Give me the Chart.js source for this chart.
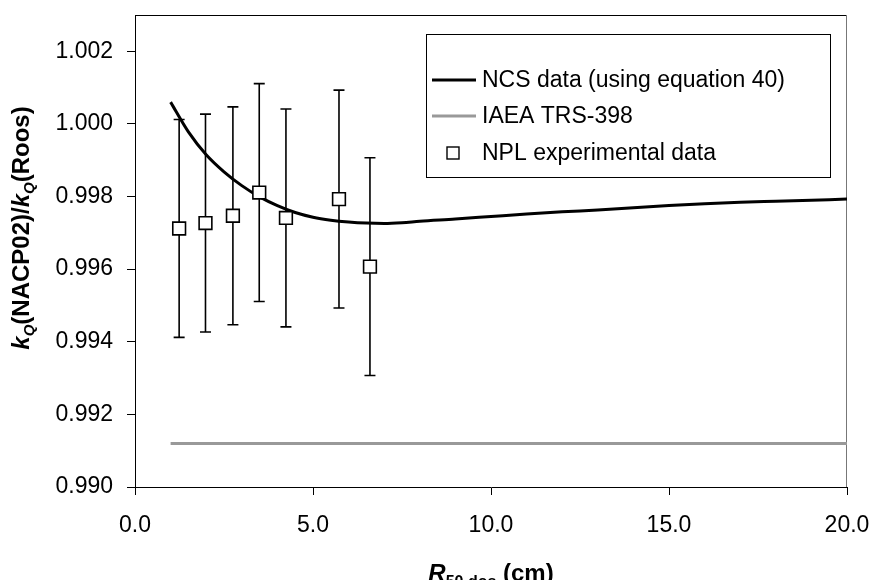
<!DOCTYPE html>
<html>
<head>
<meta charset="utf-8">
<script src="https://cdn.jsdelivr.net/npm/chart.js@4"></script>
<style>
  html, body { margin: 0; padding: 0; background: #fff; }
</style>
</head>
<body>
<canvas id="chart" width="875" height="580"></canvas>
<script>
// ---------- Data ----------

// NCS data (using equation 40): smooth curve
const ncsX = [1.0, 1.5, 2.0, 2.5, 3.0, 3.5, 4.0, 4.5, 5.0, 5.5, 6.0, 6.5, 7.0, 7.5, 8.0,
              9.0, 10.0, 11.0, 12.0, 13.0, 14.0, 15.0, 16.0, 17.0, 18.0, 19.0, 20.0];
const ncsY = [1.00060, 0.99978, 0.99915, 0.99868, 0.99830, 0.99799, 0.99775, 0.99756, 0.99743,
              0.99735, 0.99730, 0.99727, 0.99726, 0.99728, 0.99732, 0.99738, 0.99745, 0.99752,
              0.99758, 0.99763, 0.99769, 0.99775, 0.99780, 0.99784, 0.99787, 0.99790, 0.99793];

// IAEA TRS-398: flat line
const iaeaX = [1.0, 20.0];
const iaeaY = [0.9912, 0.9912];

// NPL experimental data with error bars
const nplX = [1.24, 1.98, 2.75, 3.49, 4.24, 5.73, 6.60];
const nplY = [0.99712, 0.99727, 0.99747, 0.99811, 0.99741, 0.99793, 0.99607];
const nplErr = [0.0030, 0.0030, 0.0030, 0.0030, 0.0030, 0.0030, 0.0030];

const seriesLabels = ["NCS data (using equation 40)", "IAEA TRS-398", "NPL experimental data"];

const xTicks = [0, 5, 10, 15, 20];
const yTicks = [0.990, 0.992, 0.994, 0.996, 0.998, 1.000, 1.002];

// ---------- Helpers ----------

const FONT = "Arial, 'Liberation Sans', sans-serif";

function pts(xs, ys) {
  return xs.map((x, i) => ({ x, y: ys[i] }));
}

// ---------- Plugins ----------

// top + right frame of the plot area, and error bars under the markers
const underlay = {
  id: "underlay",
  beforeDatasetsDraw(chart) {
    const { ctx, chartArea: a, scales } = chart;
    ctx.save();
    ctx.lineWidth = 1;
    ctx.strokeStyle = "#000";
    ctx.beginPath();
    ctx.moveTo(a.left, a.top + 0.5);
    ctx.lineTo(a.right, a.top + 0.5);
    ctx.stroke();
    ctx.strokeStyle = "#777";
    ctx.beginPath();
    ctx.moveTo(a.right - 0.5, a.top);
    ctx.lineTo(a.right - 0.5, a.bottom);
    ctx.stroke();

    ctx.strokeStyle = "#000";
    ctx.lineWidth = 1.6;
    nplX.forEach((x, i) => {
      const px = scales.x.getPixelForValue(x);
      const top = scales.y.getPixelForValue(nplY[i] + nplErr[i]);
      const bot = scales.y.getPixelForValue(nplY[i] - nplErr[i]);
      ctx.beginPath();
      ctx.moveTo(px, top);
      ctx.lineTo(px, bot);
      ctx.moveTo(px - 5.5, top);
      ctx.lineTo(px + 5.5, top);
      ctx.moveTo(px - 5.5, bot);
      ctx.lineTo(px + 5.5, bot);
      ctx.stroke();
    });
    ctx.restore();
  },
};

// axis titles with italics and subscripts
function drawRich(ctx, parts, x, y) {
  // parts: [text, style, size, dy]
  let total = 0;
  parts.forEach((p) => {
    ctx.font = `${p[1]} ${p[2]}px ${FONT}`;
    total += ctx.measureText(p[0]).width;
  });
  let cx = x - total / 2;
  parts.forEach((p) => {
    ctx.font = `${p[1]} ${p[2]}px ${FONT}`;
    ctx.fillText(p[0], cx, y + p[3]);
    cx += ctx.measureText(p[0]).width;
  });
}

const titles = {
  id: "titles",
  afterDraw(chart) {
    const { ctx, chartArea: a } = chart;
    ctx.save();
    ctx.fillStyle = "#000";
    ctx.textBaseline = "alphabetic";
    ctx.textAlign = "left";

    drawRich(ctx, [
      ["R", "italic bold", 24, 0],
      ["50,dos", "bold", 16, 6],
      [" (cm)", "bold", 24, 0],
    ], (a.left + a.right) / 2, 581);

    ctx.translate(29, 228);
    ctx.rotate(-Math.PI / 2);
    drawRich(ctx, [
      ["k", "italic bold", 24, 0],
      ["Q", "italic bold", 15, 5],
      ["(NACP02)/", "bold", 24, 0],
      ["k", "italic bold", 24, 0],
      ["Q", "italic bold", 15, 5],
      ["(Roos)", "bold", 24, 0],
    ], 0, 0);
    ctx.restore();
  },
};

// legend box inside the plot
const legendBox = {
  id: "legendBox",
  afterDraw(chart) {
    const { ctx } = chart;
    const box = { left: 426, top: 34, right: 830, bottom: 177 };
    const rows = [80, 116, 153];
    ctx.save();
    ctx.fillStyle = "#fff";
    ctx.fillRect(box.left, box.top, box.right - box.left, box.bottom - box.top);
    ctx.strokeStyle = "#000";
    ctx.lineWidth = 1;
    ctx.strokeRect(box.left + 0.5, box.top + 0.5, box.right - box.left, box.bottom - box.top);

    chart.data.datasets.forEach((ds, i) => {
      const y = rows[i];
      if (ds.showLine) {
        ctx.strokeStyle = ds.borderColor;
        ctx.lineWidth = ds.borderWidth;
        ctx.beginPath();
        ctx.moveTo(432, y);
        ctx.lineTo(476, y);
        ctx.stroke();
      } else {
        ctx.fillStyle = "#fff";
        ctx.strokeStyle = "#000";
        ctx.lineWidth = 1.4;
        ctx.fillRect(447, y - 6, 12, 12);
        ctx.strokeRect(447, y - 6, 12, 12);
      }
      ctx.fillStyle = "#000";
      ctx.font = `23px ${FONT}`;
      ctx.textBaseline = "middle";
      ctx.fillText(ds.label, 482, y + 1);
    });
    ctx.restore();
  },
};

// keep the plot box where the reference has it
function noEdgePadding(s) {
  s.paddingTop = 0;
  s.paddingBottom = 0;
  s.paddingLeft = 0;
  s.paddingRight = 0;
}

// ---------- Chart ----------

new Chart(document.getElementById("chart"), {
  type: "scatter",
  data: {
    datasets: [
      {
        label: seriesLabels[0],
        data: pts(ncsX, ncsY),
        showLine: true,
        borderColor: "#000",
        borderWidth: 3,
        pointRadius: 0,
        cubicInterpolationMode: "monotone",
        order: 1,
      },
      {
        label: seriesLabels[1],
        data: pts(iaeaX, iaeaY),
        showLine: true,
        borderColor: "#999",
        borderWidth: 3,
        pointRadius: 0,
        order: 2,
      },
      {
        label: seriesLabels[2],
        data: pts(nplX, nplY),
        showLine: false,
        pointStyle: "rect",
        pointRadius: 9,
        pointBackgroundColor: "#fff",
        pointBorderColor: "#000",
        pointBorderWidth: 1.6,
        order: 0,
      },
    ],
  },
  options: {
    responsive: false,
    animation: false,
    devicePixelRatio: 1,
    layout: { padding: { top: 15, right: 28, left: 0, bottom: 0 } },
    plugins: { legend: { display: false }, tooltip: { enabled: false } },
    scales: {
      x: {
        type: "linear",
        min: 0,
        max: 20,
        afterBuildTicks: (s) => { s.ticks = xTicks.map((v) => ({ value: v })); },
        afterFit: (s) => { s.height = 93; noEdgePadding(s); },
        ticks: {
          callback: (v) => Number(v).toFixed(1),
          color: "#000",
          font: { family: FONT, size: 23 },
          padding: 17,
          maxRotation: 0,
        },
        grid: { drawOnChartArea: false, drawTicks: true, tickLength: 8, color: "#000" },
        border: { color: "#000", width: 1 },
      },
      y: {
        type: "linear",
        min: 0.990,
        max: 1.003,
        afterBuildTicks: (s) => { s.ticks = yTicks.map((v) => ({ value: v })); },
        afterFit: (s) => { s.width = 135; noEdgePadding(s); },
        ticks: {
          callback: (v) => Number(v).toFixed(3),
          color: "#000",
          font: { family: FONT, size: 23 },
          padding: 14,
        },
        grid: { drawOnChartArea: false, drawTicks: true, tickLength: 8, color: "#000" },
        border: { color: "#000", width: 1 },
      },
    },
  },
  plugins: [underlay, titles, legendBox],
});
</script>
</body>
</html>
